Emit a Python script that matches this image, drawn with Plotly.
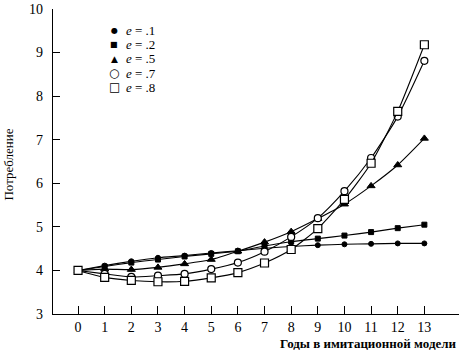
import plotly.graph_objects as go

years = list(range(14))
e1 = [4.0, 4.11, 4.21, 4.29, 4.34, 4.40, 4.45, 4.51, 4.55, 4.58, 4.60, 4.61, 4.62, 4.62]
e2 = [4.0, 4.09, 4.18, 4.25, 4.32, 4.38, 4.44, 4.56, 4.66, 4.73, 4.80, 4.88, 4.97, 5.05]
e5 = [4.0, 4.03, 4.02, 4.07, 4.15, 4.25, 4.44, 4.65, 4.89, 5.19, 5.52, 5.94, 6.42, 7.03]
e7 = [4.0, 3.92, 3.85, 3.88, 3.92, 4.03, 4.18, 4.43, 4.77, 5.20, 5.82, 6.58, 7.53, 8.81]
e8 = [4.0, 3.84, 3.77, 3.74, 3.75, 3.83, 3.95, 4.17, 4.48, 4.96, 5.63, 6.46, 7.65, 9.18]
labels = ["<i>e</i> = .1", "<i>e</i> = .2", "<i>e</i> = .5", "<i>e</i> = .7", "<i>e</i> = .8"]
legend_glyphs = ["●", "■", "▲", "○", "□"]
legend_glyph_sizes = [8, 8, 9, 12, 12]
series = [e1, e2, e5, e7, e8]
x_ticks = list(range(14))
y_ticks = [3, 4, 5, 6, 7, 8, 9, 10]

styles = [
    dict(symbol="circle", size=5, color="black", line=dict(color="black", width=1)),
    dict(symbol="square", size=5, color="black", line=dict(color="black", width=1)),
    dict(symbol="triangle-up", size=7, color="black", line=dict(color="black", width=1)),
    dict(symbol="circle", size=7, color="white", line=dict(color="black", width=1.2)),
    dict(symbol="square", size=8, color="white", line=dict(color="black", width=1.2)),
]

serif = "Liberation Serif, Times New Roman, DejaVu Serif, serif"

fig = go.Figure()
for lab, ys, st in zip(labels, series, styles):
    fig.add_trace(go.Scatter(x=years, y=ys, mode="lines+markers", name=lab,
                             line=dict(color="black", width=1.1, shape="spline", smoothing=0.6),
                             marker=st, showlegend=False, cliponaxis=False))

# legend built from annotations (rows 14 px apart)
annotations = []
plot_top, plot_h, plot_l, plot_w = 9, 305, 53, 406
for i, (lab, g, gs) in enumerate(zip(labels, legend_glyphs, legend_glyph_sizes)):
    py = 31 + 14 * i
    yp = (plot_top + plot_h - py) / plot_h
    annotations.append(dict(text=g, xref="paper", yref="paper", x=(114 - plot_l) / plot_w, y=yp,
                            xanchor="center", yanchor="middle", showarrow=False,
                            font=dict(family="DejaVu Sans", size=gs, color="black")))
    annotations.append(dict(text=lab, xref="paper", yref="paper", x=(124 - plot_l) / plot_w, y=yp,
                            xanchor="left", yanchor="middle", showarrow=False,
                            font=dict(family=serif, size=13, color="black")))

annotations += [
    dict(text="<b>Годы в имитационной модели</b>", xref="paper", yref="paper",
         x=1.0, y=0, yshift=-20, xanchor="right", yanchor="top", showarrow=False,
         font=dict(family=serif, size=13)),
    dict(text="Потребление", xref="paper", yref="paper", x=0, y=0.49,
         xshift=-44, textangle=-90, showarrow=False, xanchor="center", yanchor="middle",
         font=dict(family=serif, size=13)),
]

fig.update_layout(
    width=459, height=351,
    margin=dict(l=plot_l, r=0, t=plot_top, b=37),
    paper_bgcolor="white", plot_bgcolor="white",
    font=dict(family=serif, color="black", size=14),
    showlegend=False,
    xaxis=dict(range=[-0.94, 14.3], tickvals=x_ticks, ticks="inside", ticklen=8,
               showline=True, linecolor="black", linewidth=1.2, showgrid=False,
               zeroline=False, tickcolor="black", tickwidth=1.2,
               tickfont=dict(family=serif, size=14), ticklabelstandoff=0),
    yaxis=dict(range=[3, 10], tickvals=y_ticks, ticks="inside", ticklen=7,
               showline=True, linecolor="black", linewidth=1.2, showgrid=False,
               zeroline=False, tickcolor="black", tickwidth=1.2,
               tickfont=dict(family=serif, size=14), ticklabelstandoff=6),
    annotations=annotations,
)
fig.write_html("out.html")
